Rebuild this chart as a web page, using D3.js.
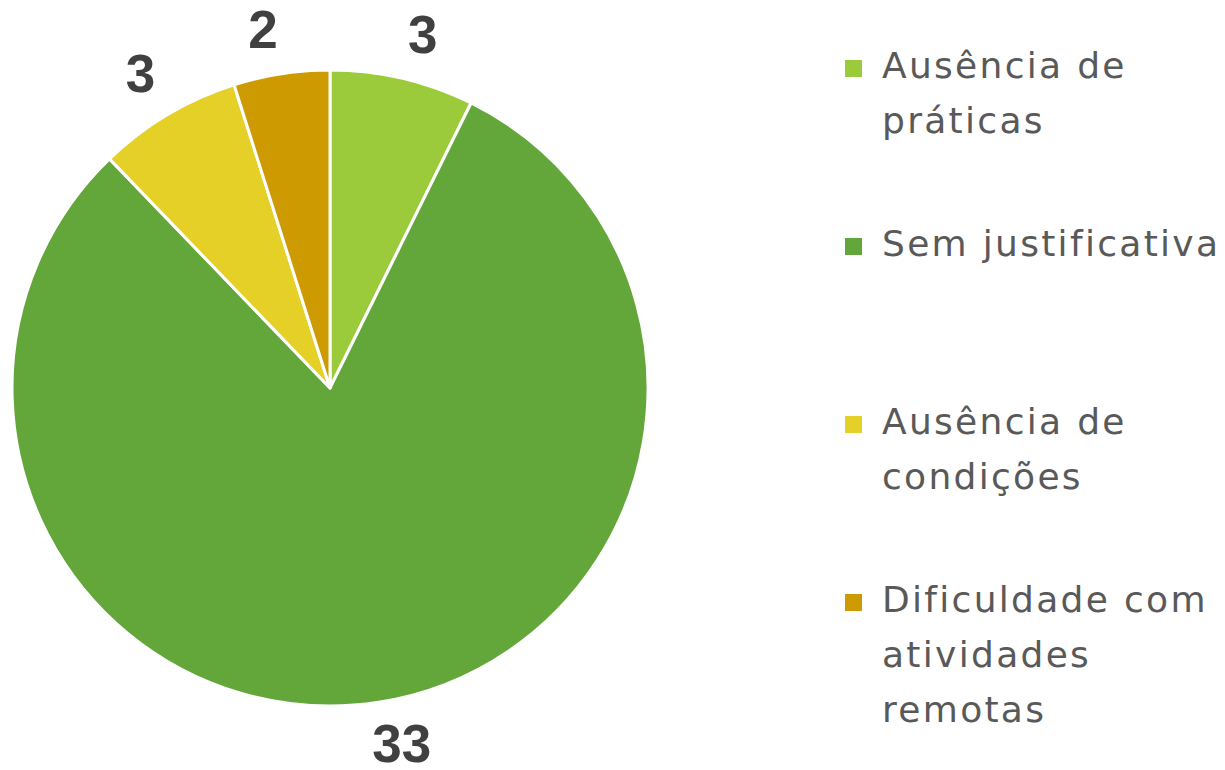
<!DOCTYPE html>
<html lang="pt">
<head>
    <meta charset="UTF-8">
    <title>Pizza</title>
    <script src="https://d3js.org/d3.v7.min.js"></script>
    <style>
        body, html {
            margin: 0;
            background-color: #ffffff;
        }
        .label {
            font-family: 'Liberation Sans', Arial, sans-serif;
            font-weight: 700;
            font-size: 53px;
            fill: #404040;
        }
        .legend text {
            font-family: 'DejaVu Sans', sans-serif;
            font-size: 36px;
            letter-spacing: 2.3px;
            fill: #595959;
        }
    </style>
</head>
<body>
<svg id="chart" width="1225" height="770"></svg>

<script>
    // dados do gráfico
    const categories = [
        ["Ausência de", "práticas"],
        ["Sem justificativa"],
        ["Ausência de", "condições"],
        ["Dificuldade com", "atividades", "remotas"]
    ];
    const values = [3, 33, 3, 2];
    const colors = ["#9BCB3B", "#63A639", "#E5D027", "#CE9A02"];

    const svg = d3.select("#chart");
    const cx = 330, cy = 388, radius = 318;

    const pie = d3.pie().sort(null).value(d => d)(values);
    const arc = d3.arc().innerRadius(0).outerRadius(radius);
    const labelArc = d3.arc().innerRadius(342).outerRadius(342);

    const g = svg.append("g").attr("transform", `translate(${cx},${cy})`);

    g.selectAll("path")
        .data(pie)
        .enter()
        .append("path")
        .attr("d", arc)
        .attr("fill", (d, i) => colors[i])
        .attr("stroke", "#ffffff")
        .attr("stroke-width", 3)
        .attr("stroke-linejoin", "round");

    // rótulos fora da pizza, canto mais próximo encostado no ponto
    g.selectAll(".label")
        .data(pie)
        .enter()
        .append("text")
        .attr("class", "label")
        .each(function (d) {
            const [x, y] = labelArc.centroid(d);
            const mid = (d.startAngle + d.endAngle) / 2;
            const right = Math.sin(mid) >= 0;
            const up = -Math.cos(mid) < 0;
            d3.select(this)
                .attr("x", right && !up ? x - 10 : x)
                .attr("y", up ? y - 2 : y + 36)
                .attr("text-anchor", right ? "start" : "end")
                .text(d.data);
        });

    // legenda
    const legendY = d3.scaleBand()
        .domain(d3.range(categories.length))
        .range([60, 772]);

    const legend = svg.append("g").attr("class", "legend");

    const items = legend.selectAll("g")
        .data(categories)
        .enter()
        .append("g")
        .attr("transform", (d, i) => `translate(845,${legendY(i)})`);

    items.append("rect")
        .attr("x", 0)
        .attr("y", 0)
        .attr("width", 17)
        .attr("height", 17)
        .attr("fill", (d, i) => colors[i]);

    items.append("text")
        .attr("x", 37)
        .attr("y", 18)
        .selectAll("tspan")
        .data(d => d)
        .enter()
        .append("tspan")
        .attr("x", 37)
        .attr("dy", (d, i) => i === 0 ? 0 : 55)
        .text(d => d);
</script>
</body>
</html>
